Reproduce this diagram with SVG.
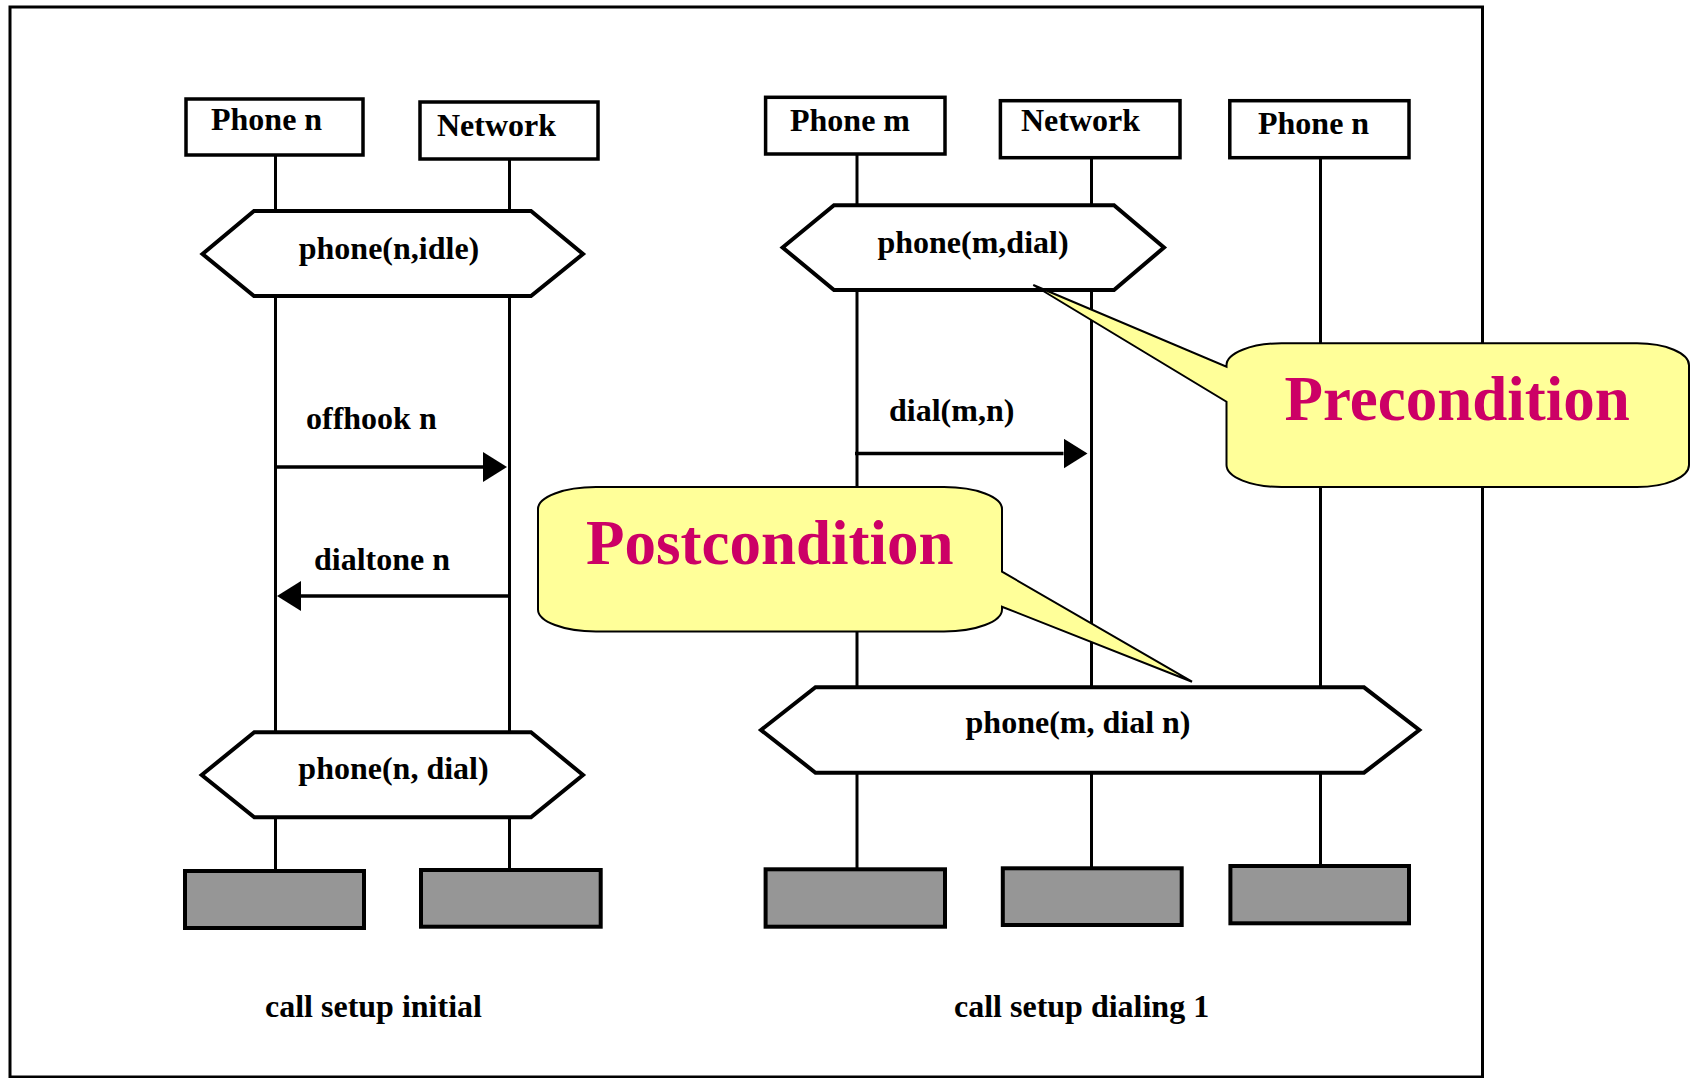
<svg xmlns="http://www.w3.org/2000/svg" width="1694" height="1078" viewBox="0 0 1694 1078">
<defs>
<style>
.frame{fill:none;stroke:#000;stroke-width:3}
.life{stroke:#000;stroke-width:3;fill:none}
.msg{stroke:#000;stroke-width:3.3;fill:none}
.head{fill:#fff;stroke:#000;stroke-width:3.5}
.end{fill:#969696;stroke:#000;stroke-width:4}
.hex{fill:#fff;stroke:#000;stroke-width:4;stroke-linejoin:miter}
.t{font-family:"Liberation Serif","Times New Roman",serif;font-weight:bold;font-size:32px;fill:#000}
.mid{text-anchor:middle}
.call{fill:#FFFF99;stroke:#000;stroke-width:2;stroke-linejoin:miter}
.big{font-family:"Liberation Serif","Times New Roman",serif;font-weight:bold;font-size:63px;fill:#CC0066}
</style>
<marker id="arr" markerUnits="userSpaceOnUse" markerWidth="25" markerHeight="31" refX="0" refY="15" orient="auto">
<path d="M0,0 L24,15 L0,30 Z" fill="#000"/>
</marker>
</defs>
<rect width="1694" height="1078" fill="#fff"/>
<rect class="frame" x="10" y="7" width="1472.5" height="1070"/>

<g id="connectors">
<line class="life" x1="275.5" y1="155" x2="275.5" y2="211"/>
<line class="life" x1="275.5" y1="296" x2="275.5" y2="732"/>
<line class="life" x1="275.5" y1="817" x2="275.5" y2="871"/>
<line class="life" x1="509.5" y1="159" x2="509.5" y2="211"/>
<line class="life" x1="509.5" y1="296" x2="509.5" y2="732"/>
<line class="life" x1="509.5" y1="817" x2="509.5" y2="870"/>
<line class="life" x1="857" y1="154" x2="857" y2="205"/>
<line class="life" x1="857" y1="290" x2="857" y2="687"/>
<line class="life" x1="857" y1="773" x2="857" y2="869"/>
<line class="life" x1="1091.5" y1="158" x2="1091.5" y2="205"/>
<line class="life" x1="1091.5" y1="290" x2="1091.5" y2="687"/>
<line class="life" x1="1091.5" y1="773" x2="1091.5" y2="868"/>
<line class="life" x1="1320.5" y1="158" x2="1320.5" y2="687"/>
<line class="life" x1="1320.5" y1="773" x2="1320.5" y2="866"/>
<line class="msg" x1="276" y1="467" x2="483" y2="467" marker-end="url(#arr)"/>
<line class="msg" x1="508" y1="596" x2="301" y2="596" marker-end="url(#arr)"/>
<line class="msg" x1="855" y1="453.5" x2="1063.5" y2="453.5" marker-end="url(#arr)"/>
<text class="t" x="306" y="429">offhook n</text>
<text class="t" x="314" y="570">dialtone n</text>
<text class="t" x="889" y="420.7">dial(m,n)</text>
</g>

<g id="left-phone-n">
<rect class="head" x="186" y="99" width="177" height="56"/>
<text class="t" x="211" y="130">Phone n</text>
</g>
<g id="left-network">
<rect class="head" x="420" y="102" width="178" height="57"/>
<text class="t" x="437" y="136">Network</text>
</g>
<g id="state-n-idle">
<polygon class="hex" points="202.5,254 254,211 531,211 583,254 531,296 254,296"/>
<text class="t mid" x="389" y="259">phone(n,idle)</text>
</g>
<g id="state-n-dial">
<polygon class="hex" points="201.7,775 254.3,732.3 531,732.3 583,775 531,817.3 254.3,817.3"/>
<text class="t mid" x="393.5" y="779">phone(n, dial)</text>
</g>
<g id="left-end-phone"><rect class="end" x="185" y="871" width="179" height="57"/></g>
<g id="left-end-network"><rect class="end" x="421" y="870" width="179.7" height="56.7"/></g>
<g id="caption-left"><text class="t" x="265" y="1017">call setup initial</text></g>

<g id="right-phone-m">
<rect class="head" x="765.6" y="97.3" width="179.4" height="56.7"/>
<text class="t" x="790" y="130.7">Phone m</text>
</g>
<g id="right-network">
<rect class="head" x="1000.4" y="100.7" width="179.6" height="57"/>
<text class="t" x="1021" y="130.7">Network</text>
</g>
<g id="right-phone-n">
<rect class="head" x="1229.8" y="100.7" width="179.2" height="57"/>
<text class="t" x="1258" y="134.3">Phone n</text>
</g>
<g id="state-m-dial">
<polygon class="hex" points="782.6,247.5 834,205.3 1114,205.3 1164,247.5 1114,290 834,290"/>
<text class="t mid" x="973" y="253">phone(m,dial)</text>
</g>
<g id="state-m-dial-n">
<polygon class="hex" points="761,730 815.5,687.3 1364,687.3 1419.3,730 1364,772.7 815.5,772.7"/>
<text class="t mid" x="1078" y="733.3">phone(m, dial n)</text>
</g>
<g id="right-end-m"><rect class="end" x="765.6" y="869.3" width="179.4" height="57.4"/></g>
<g id="right-end-network"><rect class="end" x="1002.8" y="868.3" width="178.9" height="56.7"/></g>
<g id="right-end-n"><rect class="end" x="1230.4" y="866" width="178.6" height="57.3"/></g>
<g id="caption-right"><text class="t" x="954" y="1016.7">call setup dialing 1</text></g>

<g id="precondition">
<path class="call" d="M1281.5,343.3 H1637 A52,22 0 0 1 1689,365.3 V465 A52,22 0 0 1 1637,487 H1281.5 A55,22 0 0 1 1226.5,465 V401.7 L1033.3,285 L1226.5,366.7 V365.3 A55,22 0 0 1 1281.5,343.3 Z"/>
<text class="big" x="1284.5" y="420">Precondition</text>
</g>
<g id="postcondition">
<path class="call" d="M596,487 H944 A58,22 0 0 1 1002,509 V571.7 L1192,681.7 L1002,606.7 V609.5 A58,22 0 0 1 944,631.5 H596 A58,22 0 0 1 538,609.5 V509 A58,22 0 0 1 596,487 Z"/>
<text class="big" x="586" y="564.3">Postcondition</text>
</g>
</svg>
